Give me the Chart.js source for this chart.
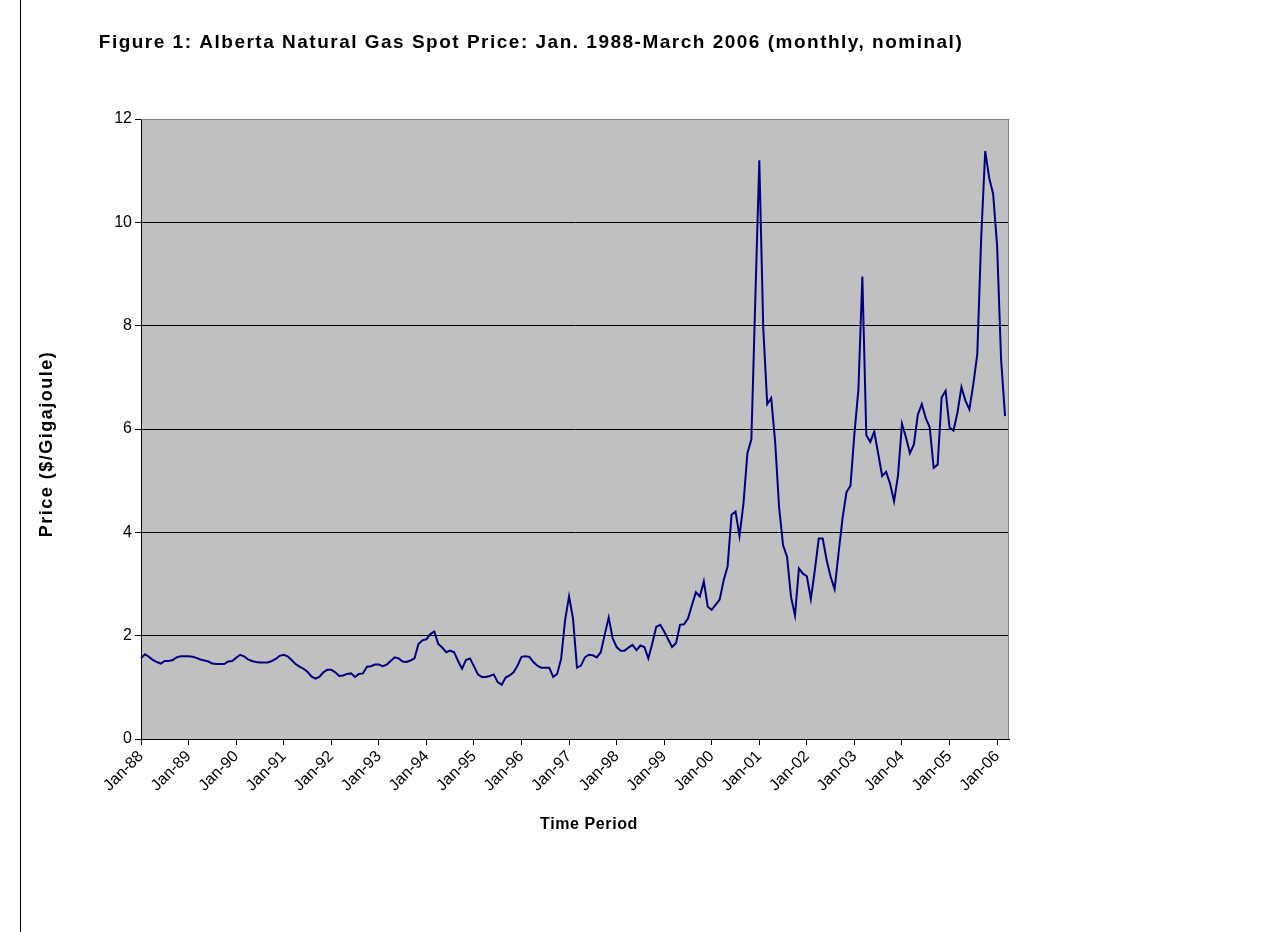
<!DOCTYPE html>
<html>
<head>
<meta charset="utf-8">
<script src="https://cdn.jsdelivr.net/npm/chart.js@4.4.1/dist/chart.umd.min.js"></script>
<style>
  html, body { margin: 0; padding: 0; background: #ffffff; }
  #wrap { position: relative; width: 1261px; height: 932px; }
  canvas { display: block; }
</style>
</head>
<body>
<div id="wrap"><canvas id="c" width="1261" height="932"></canvas></div>
<script>
// ---- Data ----
const monthNames = ['Jan','Feb','Mar','Apr','May','Jun','Jul','Aug','Sep','Oct','Nov','Dec'];
const years = [1988,1989,1990,1991,1992,1993,1994,1995,1996,1997,1998,1999,2000,2001,2002,2003,2004,2005,2006];

const price1988 = [1.56,1.64,1.59,1.53,1.49,1.46,1.51,1.51,1.53,1.58,1.60,1.60];
const price1989 = [1.60,1.59,1.57,1.54,1.52,1.50,1.46,1.45,1.45,1.45,1.50,1.51];
const price1990 = [1.57,1.63,1.60,1.54,1.51,1.49,1.48,1.48,1.48,1.51,1.55,1.61];
const price1991 = [1.63,1.60,1.53,1.45,1.40,1.36,1.30,1.21,1.17,1.20,1.29,1.34];
const price1992 = [1.34,1.29,1.22,1.23,1.26,1.27,1.20,1.26,1.27,1.40,1.41,1.44];
const price1993 = [1.44,1.41,1.44,1.51,1.58,1.56,1.50,1.49,1.52,1.56,1.84,1.91];
const price1994 = [1.93,2.03,2.08,1.84,1.77,1.68,1.71,1.68,1.51,1.36,1.53,1.56];
const price1995 = [1.41,1.25,1.20,1.20,1.22,1.25,1.10,1.05,1.19,1.23,1.29,1.42];
const price1996 = [1.59,1.60,1.59,1.49,1.42,1.38,1.38,1.38,1.20,1.26,1.55,2.30];
const price1997 = [2.76,2.33,1.38,1.42,1.58,1.63,1.62,1.58,1.68,2.02,2.35,1.95];
const price1998 = [1.78,1.71,1.71,1.77,1.82,1.72,1.81,1.78,1.56,1.85,2.17,2.21];
const price1999 = [2.08,1.93,1.78,1.86,2.21,2.22,2.33,2.59,2.84,2.76,3.05,2.56];
const price2000 = [2.50,2.60,2.70,3.07,3.34,4.34,4.40,3.93,4.55,5.53,5.80,8.53];
const price2001 = [11.20,7.95,6.48,6.60,5.75,4.48,3.75,3.53,2.75,2.39,3.30,3.20];
const price2002 = [3.15,2.71,3.26,3.88,3.88,3.46,3.14,2.90,3.60,4.27,4.78,4.90];
const price2003 = [5.91,6.76,8.95,5.88,5.75,5.95,5.52,5.09,5.17,4.94,4.60,5.10];
const price2004 = [6.10,5.84,5.53,5.70,6.28,6.48,6.21,6.03,5.25,5.31,6.61,6.74];
const price2005 = [6.03,5.97,6.32,6.81,6.55,6.38,6.87,7.45,9.73,11.38,10.86,10.55];
const price2006 = [9.55,7.35,6.25,null]; // Jan-Mar 2006; April slot left empty as in the reference axis

const yTicks = [0,2,4,6,8,10,12];

const chartTitle = 'Figure 1: Alberta Natural Gas Spot Price: Jan. 1988-March 2006 (monthly, nominal)';
const xTitle = 'Time Period';
const yTitle = 'Price ($/Gigajoule)';

const yearlyPrices = [price1988,price1989,price1990,price1991,price1992,price1993,price1994,price1995,
  price1996,price1997,price1998,price1999,price2000,price2001,price2002,price2003,price2004,price2005,price2006];

const labels = [];
const values = [];
yearlyPrices.forEach((arr, yi) => {
  arr.forEach((v, mi) => {
    labels.push(monthNames[mi] + '-' + String(years[yi]).slice(2));
    values.push(v);
  });
});

const FONT = "'Liberation Sans', Arial, Helvetica, sans-serif";

// ---- layout targets ----
const PLOT_LEFT = 141, PLOT_TOP = 119, PLOT_RIGHT = 1009, PLOT_BOTTOM = 739;
const PAD_LEFT = 60, PAD_BOTTOM = 110;

function drawText(ctx, text, x, y, font, spacing, rot) {
  ctx.save();
  ctx.font = font;
  try { ctx.letterSpacing = spacing; } catch (e) {}
  ctx.fillStyle = '#000';
  ctx.textAlign = 'center';
  ctx.textBaseline = 'middle';
  ctx.translate(x, y);
  if (rot) ctx.rotate(rot);
  ctx.fillText(text, 0, 0);
  ctx.restore();
}

const bgPlugin = {
  id: 'plotBg',
  beforeDraw(chart) {
    const {ctx, chartArea: a} = chart;
    ctx.save();
    ctx.fillStyle = '#ffffff';
    ctx.fillRect(0, 0, chart.width, chart.height);
    ctx.fillStyle = '#c0c0c0';
    ctx.fillRect(a.left, a.top, a.right - a.left, a.bottom - a.top);
    ctx.restore();
  },
  afterDraw(chart) {
    const {ctx, chartArea: a} = chart;
    ctx.save();
    ctx.strokeStyle = '#808080';
    ctx.lineWidth = 1;
    ctx.beginPath();
    ctx.moveTo(a.left, a.top + 0.5);
    ctx.lineTo(a.right - 0.5, a.top + 0.5);
    ctx.lineTo(a.right - 0.5, a.bottom);
    ctx.stroke();
    // outer frame (left edge line)
    ctx.strokeStyle = '#000';
    ctx.beginPath();
    ctx.moveTo(20.5, 0);
    ctx.lineTo(20.5, chart.height);
    ctx.stroke();
    ctx.restore();
    // titles
    drawText(ctx, chartTitle, 531, 43, "bold 19px " + FONT, '1.5px', 0);
    drawText(ctx, yTitle, 47, 444, "bold 18px " + FONT, '1.5px', -Math.PI / 2);
    drawText(ctx, xTitle, 589, 825, "bold 16px " + FONT, '0.6px', 0);
  }
};

new Chart(document.getElementById('c'), {
  type: 'line',
  data: {
    labels: labels,
    datasets: [{
      data: values,
      borderColor: '#000080',
      borderWidth: 2,
      pointRadius: 0,
      fill: false,
      tension: 0,
      spanGaps: false
    }]
  },
  options: {
    responsive: false,
    animation: false,
    devicePixelRatio: 1,
    layout: { padding: { left: PAD_LEFT, top: PLOT_TOP, right: 1261 - PLOT_RIGHT, bottom: PAD_BOTTOM } },
    plugins: { legend: { display: false }, tooltip: { enabled: false }, title: { display: false } },
    scales: {
      x: {
        type: 'category',
        offset: false,
        afterFit(scale) { scale.height = 932 - PAD_BOTTOM - PLOT_BOTTOM; },
        border: { display: true, color: '#000', width: 1 },
        grid: {
          drawOnChartArea: false,
          drawTicks: true,
          tickLength: 6,
          color: (c) => (c.index % 12 === 0 ? '#000' : 'rgba(0,0,0,0)')
        },
        ticks: {
          autoSkip: false,
          maxRotation: 45,
          minRotation: 45,
          color: '#000',
          padding: 2,
          font: { family: FONT, size: 16 },
          callback: function(value, index) { return index % 12 === 0 ? this.getLabelForValue(value) : ''; }
        }
      },
      y: {
        min: 0,
        max: 12,
        afterFit(scale) { scale.width = PLOT_LEFT - PAD_LEFT; },
        afterBuildTicks(scale) { scale.ticks = yTicks.map(v => ({ value: v })); },
        border: { display: true, color: '#000', width: 1 },
        grid: { color: '#000', lineWidth: 1, drawTicks: true, tickLength: 6 },
        ticks: { color: '#000', padding: 3, font: { family: FONT, size: 16 } }
      }
    }
  },
  plugins: [bgPlugin]
});
</script>
</body>
</html>
